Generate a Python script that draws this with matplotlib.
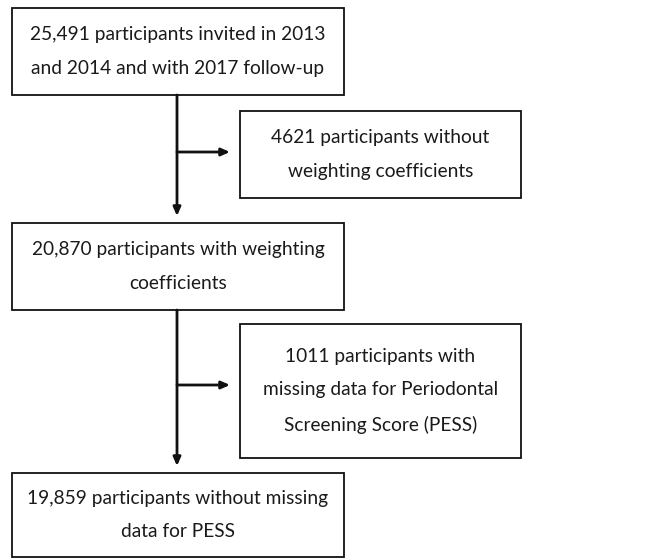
import matplotlib.pyplot as plt
from matplotlib.patches import Rectangle

# flowchart texts
main_steps = [
    "25,491 participants invited in 2013\nand 2014 and with 2017 follow-up",
    "20,870 participants with weighting\ncoefficients",
    "19,859 participants without missing\ndata for PESS",
]
excluded = [
    "4621 participants without\nweighting coefficients",
    "1011 participants with\nmissing data for Periodontal\nScreening Score (PESS)",
]

# layout in pixel coordinates (x0, y0, x1, y1)
main_boxes = [(12, 8, 344, 95), (12, 223, 344, 310), (12, 473, 344, 557)]
side_boxes = [(240, 111, 521, 198), (240, 324, 521, 458)]
branch_y = [152, 385]
trunk_x = 177

fig = plt.figure(figsize=(6.52, 5.58), dpi=100)
ax = fig.add_axes([0, 0, 1, 1])
ax.set_xlim(0, 652)
ax.set_ylim(558, 0)
ax.axis("off")

font = dict(family="Lato", size=13.8, color="#1a1a1a", ha="center", va="center",
            linespacing=2.2)

def box(b, text):
    x0, y0, x1, y1 = b
    ax.add_patch(Rectangle((x0, y0), x1 - x0, y1 - y0, fill=False,
                           edgecolor="#111111", linewidth=1.3))
    ax.text((x0 + x1) / 2, (y0 + y1) / 2, text, **font)

for b, t in zip(main_boxes, main_steps):
    box(b, t)
for b, t in zip(side_boxes, excluded):
    box(b, t)

arrow = dict(arrowstyle="-|>,head_length=0.5,head_width=0.22", color="#111111",
             lw=2.0, shrinkA=0, shrinkB=0)
for i in range(2):
    top = main_boxes[i][3]
    bottom = main_boxes[i + 1][1] - 7
    ax.annotate("", xy=(trunk_x, bottom), xytext=(trunk_x, top), arrowprops=arrow)
    ax.annotate("", xy=(side_boxes[i][0] - 10, branch_y[i]),
                xytext=(trunk_x, branch_y[i]), arrowprops=arrow)

plt.savefig("out.png", dpi=100)
